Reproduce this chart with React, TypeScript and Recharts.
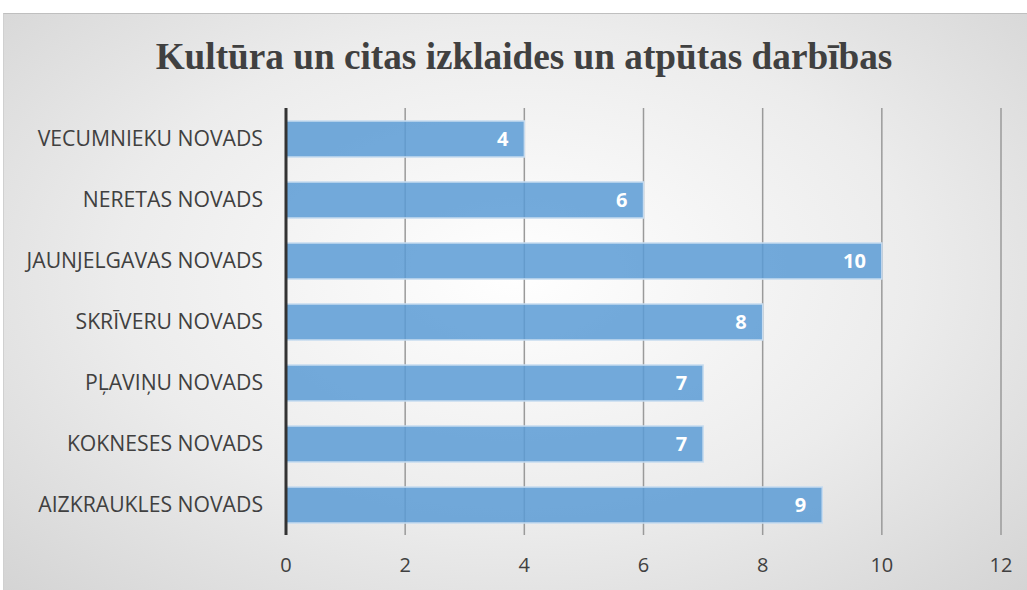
import { Bar, BarChart, CartesianGrid, LabelList, XAxis, YAxis } from 'recharts'

const regions = [
  'VECUMNIEKU NOVADS',
  'NERETAS NOVADS',
  'JAUNJELGAVAS NOVADS',
  'SKRĪVERU NOVADS',
  'PĻAVIŅU NOVADS',
  'KOKNESES NOVADS',
  'AIZKRAUKLES NOVADS'
]
const counts = [4, 6, 10, 8, 7, 7, 9]
const xTicks = [0, 2, 4, 6, 8, 10, 12]

const title = 'Kultūra un citas izklaides un atpūtas darbības'

const data = regions.map((name, i) => ({ name, value: counts[i] }))

const font = '"Open Sans", "Noto Sans", sans-serif'

export default function App() {
  return (
    <div style={{ position: 'absolute', left: 0, top: 0, width: 1027, height: 590 }}>
      <div
        style={{
          position: 'absolute',
          left: 3,
          top: 13,
          width: 1024,
          height: 577,
          borderTop: '1px solid #bfbfbf',
          borderLeft: '1px solid #d0d0d0',
          background: 'radial-gradient(ellipse at 50% 45%, #ffffff 0%, #ececec 55%, #d4d4d4 100%)'
        }}
      />
      <div
        style={{
          position: 'absolute',
          left: 0,
          top: 31,
          width: 1048,
          textAlign: 'center',
          fontFamily: '"Liberation Serif", "Times New Roman", serif',
          fontWeight: 'bold',
          fontSize: 38,
          color: '#404040',
          lineHeight: '50px',
          transform: 'scaleX(0.98)'
        }}
      >
        {title}
      </div>
      <BarChart
        width={1027}
        height={590}
        data={data}
        layout='vertical'
        margin={{ top: 108, right: 26, bottom: 15, left: 0 }}
        style={{ position: 'absolute', left: 0, top: 0 }}
      >
        <CartesianGrid horizontal={false} stroke='#9a9a9a' strokeWidth={1.5} />
        <XAxis
          type='number'
          domain={[0, 12]}
          ticks={xTicks}
          axisLine={false}
          tickLine={false}
          height={40}
          tickMargin={17}
          tick={{ fill: '#404040', fontSize: 20, fontFamily: font }}
        />
        <YAxis
          type='category'
          dataKey='name'
          width={286}
          axisLine={{ stroke: '#333333', strokeWidth: 3 }}
          tickLine={false}
          tickMargin={17}
          tick={{ fill: '#404040', fontSize: 21.2, fontFamily: font }}
        />
        <Bar
          dataKey='value'
          fill='#5b9bd5'
          fillOpacity={0.85}
          stroke='#c6dbef'
          strokeWidth={1.5}
          barSize={36}
          isAnimationActive={false}
        >
          <LabelList
            dataKey='value'
            position='insideRight'
            offset={16}
            fill='#ffffff'
            fontSize={20}
            fontWeight='bold'
            fontFamily={font}
          />
        </Bar>
      </BarChart>
    </div>
  )
}
